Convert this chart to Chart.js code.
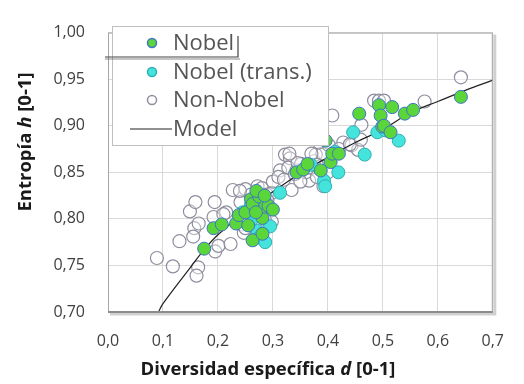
<!DOCTYPE html>
<html>
<head>
<meta charset="utf-8">
<script src="https://cdn.jsdelivr.net/npm/chart.js@4.4.1/dist/chart.umd.min.js"></script>
<style>
  html, body { margin: 0; padding: 0; background: #fff; }
</style>
</head>
<body>
<canvas id="chart" width="524" height="384"></canvas>
<script>
// valores
const nobelX = [0.175, 0.192, 0.207, 0.233, 0.238, 0.250, 0.260, 0.263, 0.263, 0.275, 0.281, 0.286, 0.292, 0.269, 0.281, 0.270, 0.285, 0.300, 0.255, 0.343, 0.355, 0.363, 0.377, 0.387, 0.396, 0.405, 0.408, 0.420, 0.457, 0.493, 0.496, 0.499, 0.502, 0.514, 0.517, 0.540, 0.555, 0.642];
const nobelY = [0.768, 0.790, 0.794, 0.795, 0.804, 0.807, 0.821, 0.816, 0.777, 0.824, 0.801, 0.813, 0.814, 0.807, 0.784, 0.830, 0.825, 0.810, 0.793, 0.850, 0.853, 0.859, 0.895, 0.852, 0.884, 0.861, 0.870, 0.870, 0.913, 0.922, 0.911, 0.899, 0.900, 0.893, 0.920, 0.913, 0.917, 0.931];

const transX = [0.245, 0.260, 0.263, 0.272, 0.275, 0.280, 0.286, 0.295, 0.313, 0.369, 0.393, 0.395, 0.413, 0.419, 0.446, 0.467, 0.490, 0.505, 0.529];
const transY = [0.807, 0.815, 0.800, 0.787, 0.780, 0.818, 0.775, 0.792, 0.828, 0.858, 0.841, 0.835, 0.872, 0.850, 0.893, 0.869, 0.893, 0.895, 0.884];

const nonNobelX = [0.089, 0.118, 0.130, 0.149, 0.159, 0.157, 0.155, 0.165, 0.164, 0.161, 0.194, 0.192, 0.195, 0.201, 0.223, 0.215, 0.227, 0.250, 0.241, 0.244, 0.247, 0.272, 0.280, 0.289, 0.298, 0.313, 0.322, 0.331, 0.328, 0.334, 0.310, 0.343, 0.351, 0.360, 0.366, 0.375, 0.378, 0.390, 0.392, 0.384, 0.408, 0.402, 0.428, 0.443, 0.455, 0.461, 0.484, 0.493, 0.502, 0.576, 0.642, 0.298, 0.260, 0.300, 0.310, 0.320, 0.340, 0.360, 0.370, 0.380, 0.345, 0.350, 0.290, 0.250, 0.270, 0.400, 0.420, 0.440, 0.460, 0.370, 0.330, 0.240, 0.285, 0.210, 0.380];
const nonNobelY = [0.758, 0.749, 0.776, 0.808, 0.818, 0.790, 0.781, 0.795, 0.748, 0.739, 0.818, 0.802, 0.765, 0.771, 0.773, 0.807, 0.831, 0.832, 0.818, 0.794, 0.785, 0.835, 0.833, 0.826, 0.828, 0.852, 0.869, 0.865, 0.855, 0.831, 0.899, 0.852, 0.859, 0.888, 0.841, 0.862, 0.869, 0.870, 0.835, 0.882, 0.911, 0.879, 0.882, 0.879, 0.874, 0.901, 0.927, 0.927, 0.927, 0.926, 0.952, 0.797, 0.826, 0.840, 0.845, 0.842, 0.848, 0.850, 0.855, 0.858, 0.860, 0.840, 0.820, 0.790, 0.810, 0.850, 0.875, 0.880, 0.885, 0.870, 0.870, 0.830, 0.800, 0.805, 0.845];

const modelX = [0.092, 0.10, 0.15, 0.175, 0.20, 0.25, 0.30, 0.35, 0.40, 0.45, 0.50, 0.55, 0.60, 0.65, 0.70];
const modelY = [0.700, 0.709, 0.748, 0.767, 0.783, 0.808, 0.829, 0.849, 0.866, 0.882, 0.896, 0.914, 0.926, 0.938, 0.949];

const legendLabels = ['Nobel', 'Nobel (trans.)', 'Non-Nobel', 'Model'];

const pts = (xs, ys) => xs.map((x, i) => ({ x: x, y: ys[i] }));
const coma = (v, d) => v.toFixed(d).replace('.', ',');

// sombra del área de trazado, títulos y leyenda
const marco = {
  id: 'marco',
  beforeDraw(chart) {
    const { ctx, chartArea: a } = chart;
    ctx.save();
    ctx.fillStyle = '#fff';
    ctx.fillRect(a.left, a.top, a.right - a.left, a.bottom - a.top);
    ctx.strokeStyle = 'rgba(120,120,120,0.35)';
    ctx.lineWidth = 3;
    ctx.beginPath();
    ctx.moveTo(a.left + 2, a.bottom + 2);
    ctx.lineTo(a.right + 2, a.bottom + 2);
    ctx.lineTo(a.right + 2, a.top + 2);
    ctx.stroke();
    ctx.restore();
  },
  afterDraw(chart) {
    const { ctx, chartArea: a } = chart;
    ctx.save();
    ctx.strokeStyle = '#a6a6a6';
    ctx.lineWidth = 1;
    ctx.strokeRect(a.left + 0.5, a.top + 0.5, a.right - a.left - 1, a.bottom - a.top);
    ctx.strokeStyle = '#8c8c8c';
    ctx.lineWidth = 2;
    ctx.beginPath();
    ctx.moveTo(a.left, a.bottom);
    ctx.lineTo(a.right, a.bottom);
    ctx.stroke();

    // títulos de ejes (con letra en cursiva)
    const partes = (trozos, x, y) => {
      let w = 0;
      trozos.forEach(t => { ctx.font = t[1]; w += ctx.measureText(t[0]).width; });
      let cx = x - w / 2;
      trozos.forEach(t => {
        ctx.font = t[1];
        ctx.fillText(t[0], cx, y);
        cx += ctx.measureText(t[0]).width;
      });
    };
    const b = 'bold 18.5px "Open Sans"';
    const bi = 'italic bold 18.5px "Open Sans"';
    ctx.fillStyle = '#1a1a1a';
    ctx.textBaseline = 'middle';
    ctx.textAlign = 'left';
    partes([['Diversidad específica ', b], ['d', bi], [' [0-1]', b]], 268, 370);
    ctx.save();
    ctx.translate(26, 142);
    ctx.rotate(-Math.PI / 2);
    partes([['Entropía ', b], ['h', bi], [' [0-1]', b]], 0, 0);
    ctx.restore();

    // leyenda
    ctx.fillStyle = '#fff';
    ctx.fillRect(112, 26, 216, 119);
    ctx.strokeStyle = '#bfbfbf';
    ctx.lineWidth = 1;
    ctx.strokeRect(112.5, 26.5, 216, 119);
    ctx.strokeStyle = 'rgba(90,90,90,0.35)';
    ctx.lineWidth = 2;
    ctx.beginPath();
    ctx.moveTo(105, 59);
    ctx.lineTo(240, 59);
    ctx.stroke();
    ctx.strokeStyle = '#444';
    ctx.lineWidth = 1.2;
    ctx.beginPath();
    ctx.moveTo(105, 57);
    ctx.lineTo(238, 57);
    ctx.lineTo(238, 36);
    ctx.stroke();

    const ds = chart.data.datasets;
    const filas = [43, 72, 100, 129];
    ctx.font = '22px "Open Sans"';
    ctx.textBaseline = 'middle';
    legendLabels.forEach((lab, i) => {
      const y = filas[i];
      if (i < 3) {
        ctx.beginPath();
        ctx.arc(152, y, 4.5, 0, Math.PI * 2);
        ctx.fillStyle = ds[i].backgroundColor;
        ctx.fill();
        ctx.strokeStyle = ds[i].borderColor;
        ctx.lineWidth = 1.5;
        ctx.stroke();
      } else {
        ctx.strokeStyle = ds[i].borderColor;
        ctx.lineWidth = 1.2;
        ctx.beginPath();
        ctx.moveTo(130, y);
        ctx.lineTo(172, y);
        ctx.stroke();
      }
      ctx.fillStyle = '#555';
      ctx.fillText(lab, 173, y + 1);
    });
    ctx.restore();
  }
};

new Chart(document.getElementById('chart'), {
  type: 'scatter',
  data: {
    datasets: [
      {
        label: legendLabels[0],
        data: pts(nobelX, nobelY),
        backgroundColor: '#5ad63a',
        borderColor: '#3f74c6',
        borderWidth: 1,
        pointRadius: 6.5,
        order: 1
      },
      {
        label: legendLabels[1],
        data: pts(transX, transY),
        backgroundColor: '#44e4dc',
        borderColor: '#2fb0b4',
        borderWidth: 1,
        pointRadius: 6.5,
        order: 2
      },
      {
        label: legendLabels[2],
        data: pts(nonNobelX, nonNobelY),
        backgroundColor: 'rgba(255,255,255,0.4)',
        borderColor: '#8e8e9e',
        borderWidth: 1.2,
        pointRadius: 6.5,
        order: 4
      },
      {
        label: legendLabels[3],
        type: 'line',
        data: pts(modelX, modelY),
        borderColor: '#222',
        backgroundColor: '#222',
        borderWidth: 1.2,
        pointRadius: 0,
        tension: 0.4,
        fill: false,
        order: 3
      }
    ]
  },
  plugins: [marco],
  options: {
    responsive: false,
    animation: false,
    layout: { padding: { top: 18, right: 21, left: 0, bottom: 0 } },
    plugins: {
      legend: { display: false },
      tooltip: { enabled: false }
    },
    scales: {
      x: {
        type: 'linear',
        min: 0,
        max: 0.7,
        ticks: {
          stepSize: 0.1,
          padding: 20,
          color: '#404040',
          font: { family: 'Open Sans', size: 16 },
          callback: v => coma(v, 1)
        },
        grid: { color: '#d9d9d9', drawTicks: false },
        border: { display: false },
        afterFit: s => { s.height = 72; }
      },
      y: {
        min: 0.7,
        max: 1.0,
        ticks: {
          stepSize: 0.05,
          padding: 23,
          color: '#404040',
          font: { family: 'Open Sans', size: 16 },
          callback: v => coma(v, 2)
        },
        grid: { color: '#d9d9d9', drawTicks: false },
        border: { display: false },
        afterFit: s => { s.height = s.height; s.width = 108; }
      }
    }
  }
});
</script>
</body>
</html>
